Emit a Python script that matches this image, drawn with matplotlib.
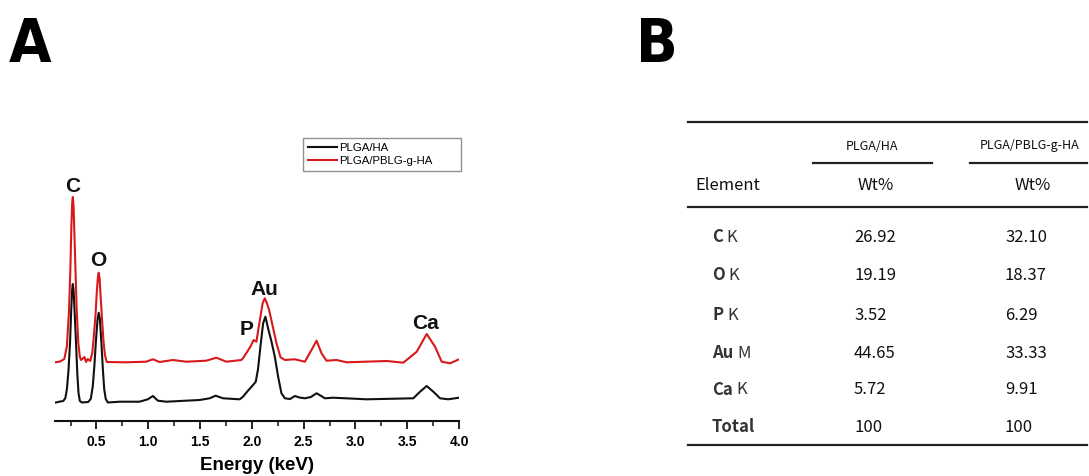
import matplotlib
matplotlib.use("Agg")
import matplotlib.pyplot as plt
from matplotlib.lines import Line2D
from matplotlib.ticker import MultipleLocator

W, H = 1089, 476
INK = "#111111"
RED = "#d7191c"

# --- EDS spectra (energy keV, intensity a.u., red trace shown offset) -------
E_HA = [0.10, 0.15, 0.18, 0.20, 0.215, 0.23, 0.245, 0.257, 0.266, 0.272,
        0.28, 0.29, 0.303, 0.315, 0.327, 0.34, 0.36, 0.42, 0.445, 0.465,
        0.48, 0.495, 0.51, 0.522, 0.533, 0.547, 0.562, 0.575, 0.59, 0.61,
        0.722, 0.916, 0.996, 1.045, 1.093, 1.174, 1.496, 1.593, 1.651, 1.722,
        1.883, 1.915, 1.96, 2.012, 2.038, 2.06, 2.083, 2.109, 2.131, 2.157,
        2.19, 2.222, 2.254, 2.286, 2.319, 2.37, 2.415, 2.46, 2.512, 2.57,
        2.625, 2.67, 2.705, 2.785, 3.108, 3.559, 3.624, 3.688, 3.752, 3.817,
        3.897, 4.0]
I_HA = [18.3, 19.5, 20, 23, 32, 50, 78, 112, 132, 137,
        130, 108, 78, 48, 28, 20, 18.5, 19, 22, 35,
        55, 80, 101, 108.3, 102, 80, 52, 32, 22, 18.5,
        19.3, 19.3, 21.7, 25, 20.3, 19.3, 21, 22.7, 25.3, 22.7,
        21.7, 24.3, 30, 36, 39.3, 52, 74.3, 97.7, 104.3, 92.7,
        79.3, 64.3, 44.3, 27.7, 22.7, 22, 25, 23.5, 22.7, 24,
        27.7, 25, 22.7, 23.3, 21.7, 22.7, 29.3, 35, 29.3, 22.7,
        21.7, 23.3]

E_PBLG = [0.10, 0.15, 0.19, 0.215, 0.235, 0.248, 0.258, 0.266, 0.272, 0.279,
          0.288, 0.298, 0.31, 0.325, 0.34, 0.352, 0.384, 0.40, 0.415, 0.44,
          0.46, 0.475, 0.49, 0.503, 0.515, 0.522, 0.53, 0.542, 0.555, 0.568,
          0.582, 0.60, 0.787, 0.980, 1.045, 1.109, 1.238, 1.367, 1.560, 1.658,
          1.754, 1.899, 1.915, 1.986, 2.018, 2.044, 2.083, 2.105, 2.125, 2.145,
          2.167, 2.199, 2.238, 2.277, 2.319, 2.415, 2.512, 2.576, 2.625, 2.673,
          2.721, 2.818, 2.915, 3.302, 3.462, 3.592, 3.688, 3.769, 3.833, 3.914,
          4.0]
I_PBLG = [58.7, 59.5, 62, 75, 110, 150, 195, 218, 224, 215,
          185, 150, 110, 78, 64, 61, 64, 59, 62, 60,
          68, 85, 104, 128, 145, 148.3, 143, 122, 100, 80,
          66, 59, 58.7, 59.3, 61.7, 59, 61, 59.3, 60.3, 63.3,
          59.3, 61, 62.7, 74.3, 81, 79.3, 104.3, 118, 122.7, 118,
          111, 96, 77.7, 63.7, 61, 61.7, 59.3, 71, 80.3, 67.7,
          60.3, 61, 58.7, 60, 58.3, 69.3, 87, 74.3, 59.3, 57.7,
          61.7]

PEAK_LABELS = ["C", "O", "P", "Au", "Ca"]
PEAK_E = [0.271, 0.522, 1.945, 2.125, 3.672]
PEAK_Y = [229, 155, 86, 126, 92]

# --- Table B -----------------------------------------------------------------
SAMPLES = ["PLGA/HA", "PLGA/PBLG-g-HA"]
ELEMENTS = ["C", "O", "P", "Au", "Ca"]
LINES = ["K", "K", "K", "M", "K"]
WT_HA = ["26.92", "19.19", "3.52", "44.65", "5.72", "100"]
WT_PBLG = ["32.10", "18.37", "6.29", "33.33", "9.91", "100"]


def fx(px):
    return px / W


def fy(py):
    return 1 - py / H


fig = plt.figure(figsize=(W / 100, H / 100), dpi=100)

# ------------------------------------------------------------- panel A ------
ax = fig.add_axes([fx(55), fy(421), fx(459) - fx(55), fy(130) - fy(421)])
ax.plot(E_HA, I_HA, color=INK, lw=1.5, label=SAMPLES[0])
ax.plot(E_PBLG, I_PBLG, color=RED, lw=1.5, label=SAMPLES[1])
for lab, e, y in zip(PEAK_LABELS, PEAK_E, PEAK_Y):
    ax.text(e, y, lab, ha="center", va="baseline", fontsize=15,
            fontweight="bold", family="Liberation Sans", color=INK)
ax.set_xlim(0.1, 4.0)
ax.set_ylim(0, 291)
ax.xaxis.set_major_locator(MultipleLocator(0.5))
ax.xaxis.set_minor_locator(MultipleLocator(0.25))
ax.tick_params(axis="x", which="major", length=6, width=1.3, direction="out",
               labelsize=10, pad=4, color=INK)
ax.tick_params(axis="x", which="minor", length=3.5, width=1.1, direction="out",
               color=INK)
for t in ax.get_xticklabels():
    t.set_fontweight("bold")
    t.set_family("Liberation Sans")
ax.set_yticks([])
for s in ("top", "right", "left"):
    ax.spines[s].set_visible(False)
ax.spines["bottom"].set_linewidth(1.5)
ax.spines["bottom"].set_color(INK)
ax.set_xlabel("Energy (keV)", fontsize=13.5, fontweight="bold",
              family="Liberation Sans", labelpad=6)
ax.patch.set_alpha(0)
leg = ax.legend(loc="upper left",
                bbox_to_anchor=(fx(303), fy(172), fx(461) - fx(303),
                                fy(138) - fy(172)),
                bbox_transform=fig.transFigure, mode="expand",
                frameon=True, fancybox=False,
                prop={"family": "Liberation Sans", "size": 8.2},
                handlelength=2.6, handletextpad=0.2, labelspacing=0.3,
                borderpad=0.4, borderaxespad=0)
leg.get_frame().set_edgecolor("#777777")
leg.get_frame().set_linewidth(1.0)

# panel letters
for letter, px in (("A", 30), ("B", 657)):
    fig.text(fx(px), fy(62), letter, ha="center", va="baseline", fontsize=44,
             fontweight="bold", fontstretch="condensed",
             family=["DejaVu Sans"], color="#000000")

# ------------------------------------------------------------- panel B ------
TF = ["Noto Sans CJK SC", "DejaVu Sans"]


def hline(x0, x1, y, lw):
    fig.add_artist(Line2D([fx(x0), fx(x1)], [fy(y), fy(y)], color="#222222",
                          lw=lw, transform=fig.transFigure))


hline(688, 1087, 122, 1.6)
hline(813, 932, 163, 1.6)
hline(970, 1087, 163, 1.6)
hline(688, 1087, 207, 1.6)
hline(688, 1087, 445, 1.6)

fig.text(fx(872), fy(146), SAMPLES[0], ha="center", va="center", fontsize=9,
         family=TF, color=INK)
fig.text(fx(1030), fy(146), SAMPLES[1], ha="center", va="center", fontsize=9,
         family=TF, color=INK)
fig.text(fx(695), fy(186), "Element", ha="left", va="center", fontsize=12,
         family=TF, color=INK)
for cx in (876, 1033):
    fig.text(fx(cx), fy(186), "Wt%", ha="center", va="center", fontsize=12,
             family=TF, color=INK)

row_y = [237, 275, 315, 353, 390, 427]
for i, y in enumerate(row_y):
    if i < len(ELEMENTS):
        t = fig.text(fx(712), fy(y), ELEMENTS[i], ha="left", va="center",
                     fontsize=12, family=TF, fontweight="bold", color="#333333")
        fig.canvas.draw()
        bb = t.get_window_extent()
        fig.text(bb.x1 / W + fx(4), fy(y), LINES[i], ha="left", va="center",
                 fontsize=12, family=TF, color="#333333")
    else:
        fig.text(fx(712), fy(y), "Total", ha="left", va="center", fontsize=12,
                 family=TF, fontweight="bold", color="#333333")
    fig.text(fx(854), fy(y), WT_HA[i], ha="left", va="center", fontsize=12,
             family=TF, color=INK)
    fig.text(fx(1005), fy(y), WT_PBLG[i], ha="left", va="center", fontsize=12,
             family=TF, color=INK)

fig.savefig("out.png", dpi=100)
